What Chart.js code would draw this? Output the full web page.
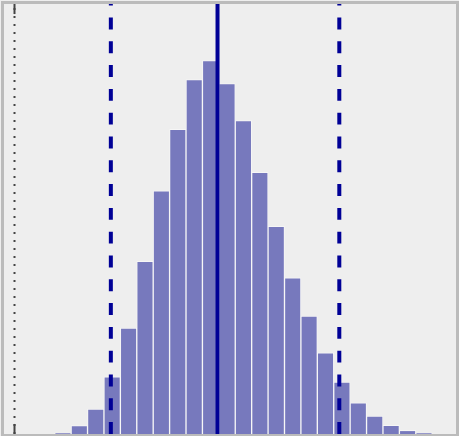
<!DOCTYPE html>
<html>
<head>
<meta charset="utf-8">
<script src="https://cdn.jsdelivr.net/npm/chart.js@4/dist/chart.umd.min.js"></script>
<style>
  html, body { margin: 0; padding: 0; background: #ffffff; }
  #wrap { width: 459px; height: 436px; position: relative; }
</style>
</head>
<body>
<div id="wrap"><canvas id="hist"></canvas></div>
<script>
// ===== Data =====
const binStart = 2.45;   // left edge of first bin
const binWidth = 1;
const counts = [2, 26, 77, 176, 326, 532, 749, 939, 1092, 1151, 1080, 966,
                806, 640, 481, 363, 250, 160, 96, 55, 27, 11, 2];
const zeroLine = 0;
const lowerBound = 5.87;
const centerLine = 12.37;
const upperBound = 19.79;
const xMin = -0.64;
const xMax = 26.9;
const yMax = 1325;
const endTick = 31;      // solid bits at both ends of the zero line

const barPoints = counts.map((c, i) => ({ x: binStart + binWidth * (i + 0.5), y: c }));
const vline = (x, y0 = 0, y1 = yMax) => [{ x, y: y0 }, { x, y: y1 }];

// ===== Frame plugin =====
const frame = {
  id: "frame",
  beforeDraw(chart) {
    const { ctx } = chart;
    ctx.save();
    ctx.fillStyle = "#eeeeee";
    ctx.fillRect(0, 0, chart.width, chart.height);
    ctx.restore();
  },
  afterDraw(chart) {
    const { ctx, chartArea: a } = chart;
    ctx.save();
    ctx.strokeStyle = "#bbbbbb";
    ctx.lineWidth = 3;
    ctx.strokeRect(a.left - 1.5, a.top - 1.5, a.right - a.left + 3, a.bottom - a.top + 3);
    ctx.restore();
  },
};

function lineSet(data, color, width, dash) {
  return {
    type: "line",
    data,
    borderColor: color,
    borderWidth: width,
    borderDash: dash,
    borderCapStyle: "butt",
    pointRadius: 0,
    fill: false,
    order: 0,
  };
}

new Chart(document.getElementById("hist"), {
  type: "bar",
  data: {
    datasets: [
      {
        type: "bar",
        data: barPoints,
        backgroundColor: "#7779bd",
        borderColor: "rgba(255,255,255,0.45)",
        borderWidth: 1,
        barPercentage: 1,
        categoryPercentage: 1,
        order: 1,
      },
      lineSet(vline(zeroLine), "#444444", 2, [2, 6]),
      lineSet(vline(zeroLine, 0, endTick), "#444444", 2, []),
      lineSet(vline(zeroLine, yMax - endTick, yMax), "#444444", 2, []),
      lineSet(vline(lowerBound), "#000096", 4, [11.9, 11.9]),
      lineSet(vline(upperBound), "#000096", 4, [11.9, 11.9]),
      lineSet(vline(centerLine), "#000096", 4, []),
    ],
  },
  options: {
    responsive: true,
    maintainAspectRatio: false,
    animation: false,
    layout: { padding: { left: 4, top: 4, right: 3, bottom: 2 } },
    plugins: { legend: { display: false }, tooltip: { enabled: false } },
    scales: {
      x: { type: "linear", min: xMin, max: xMax, display: false, offset: false },
      y: { min: 0, max: yMax, display: false },
    },
  },
  plugins: [frame],
});
</script>
</body>
</html>
